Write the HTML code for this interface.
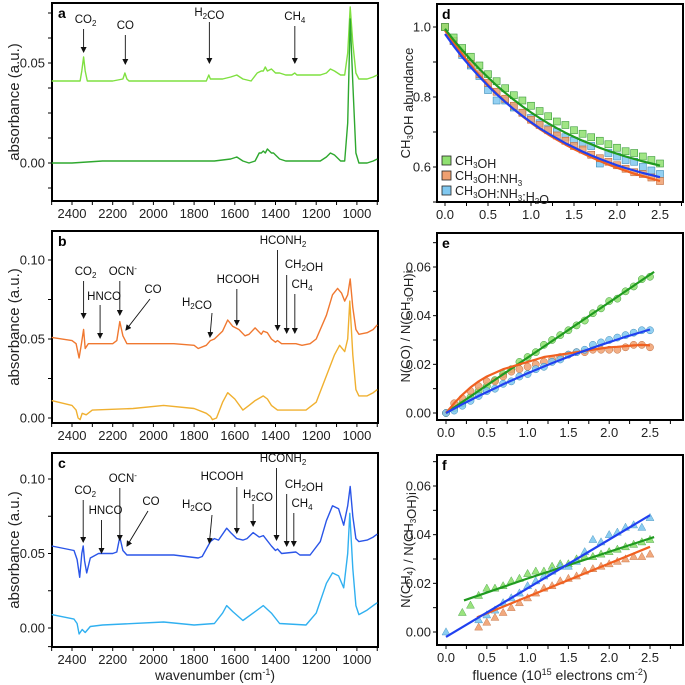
<!DOCTYPE html>
<html><head><meta charset="utf-8"><style>
html,body{margin:0;padding:0;background:#fff;}
svg{display:block;font-family:"Liberation Sans",Arial,sans-serif;}
</style></head><body>
<svg id="fig" width="685" height="685" viewBox="0 0 685 685" xmlns="http://www.w3.org/2000/svg"></svg>
<script>
// ---------- Spectra data (wavenumber, absorbance) ----------
const aTopW=[2500,2400,2360,2352,2343,2335,2325,2200,2150,2140,2130,2120,2000,1800,1740,1728,1720,1700,1660,1620,1590,1560,1520,1490,1470,1460,1450,1440,1420,1410,1400,1380,1350,1320,1305,1295,1250,1180,1150,1130,1110,1080,1060,1045,1033,1020,1005,990,950,920,900];
const aTopV=[0.041,0.041,0.041,0.046,0.053,0.046,0.041,0.041,0.042,0.045,0.042,0.041,0.041,0.041,0.041,0.044,0.042,0.042,0.042,0.043,0.044,0.042,0.041,0.045,0.046,0.046,0.048,0.046,0.047,0.046,0.045,0.045,0.044,0.044,0.045,0.044,0.044,0.044,0.045,0.047,0.046,0.044,0.044,0.055,0.078,0.060,0.045,0.042,0.042,0.043,0.044];
const aBotW=[2500,2400,2250,2100,1900,1700,1620,1590,1560,1530,1500,1480,1470,1460,1450,1440,1430,1420,1410,1400,1380,1350,1300,1250,1180,1150,1130,1110,1080,1060,1045,1033,1020,1005,990,950,920,900];
const aBotV=[0.000,0.000,0.001,0.001,0.001,0.001,0.002,0.003,0.001,0.000,0.001,0.005,0.005,0.006,0.005,0.007,0.006,0.005,0.005,0.004,0.002,0.001,0.001,0.001,0.001,0.003,0.005,0.004,0.001,0.001,0.020,0.072,0.040,0.005,0.000,0.000,0.001,0.002];
const bTopW=[2500,2400,2380,2365,2355,2343,2335,2320,2300,2200,2180,2165,2150,2130,1900,1800,1780,1740,1720,1700,1660,1635,1610,1580,1550,1530,1500,1470,1460,1440,1420,1400,1390,1370,1340,1300,1270,1230,1200,1150,1120,1095,1075,1060,1045,1033,1020,1005,990,950,920,900];
const bTopV=[0.051,0.049,0.047,0.038,0.046,0.056,0.044,0.047,0.047,0.047,0.049,0.061,0.052,0.047,0.047,0.046,0.044,0.046,0.049,0.050,0.055,0.062,0.058,0.056,0.052,0.053,0.057,0.053,0.055,0.054,0.050,0.048,0.049,0.047,0.047,0.047,0.046,0.047,0.050,0.065,0.078,0.082,0.079,0.074,0.078,0.088,0.070,0.056,0.053,0.054,0.056,0.059];
const bBotW=[2500,2400,2380,2370,2360,2350,2330,2300,2100,1950,1800,1740,1720,1710,1690,1660,1635,1600,1560,1530,1500,1460,1440,1420,1390,1300,1250,1200,1140,1110,1085,1060,1045,1035,1020,1005,990,950,920,900];
const bBotV=[0.011,0.008,0.005,0.000,-0.001,0.003,0.002,0.005,0.006,0.008,0.006,0.003,0.001,-0.001,0.000,0.010,0.016,0.012,0.005,0.008,0.011,0.014,0.012,0.008,0.005,0.005,0.005,0.010,0.030,0.040,0.046,0.042,0.050,0.074,0.040,0.018,0.014,0.014,0.016,0.018];
const cTopW=[2500,2390,2375,2362,2352,2345,2338,2328,2310,2270,2200,2180,2165,2150,2130,1900,1780,1760,1720,1700,1680,1640,1620,1590,1560,1540,1510,1480,1460,1420,1400,1390,1370,1300,1280,1230,1180,1150,1120,1090,1065,1045,1033,1020,1005,990,950,920,900];
const cTopV=[0.055,0.052,0.046,0.034,0.050,0.055,0.045,0.037,0.047,0.050,0.050,0.051,0.061,0.052,0.049,0.049,0.047,0.048,0.058,0.060,0.059,0.067,0.064,0.060,0.059,0.060,0.064,0.061,0.062,0.055,0.052,0.053,0.050,0.051,0.049,0.049,0.058,0.072,0.082,0.080,0.069,0.082,0.095,0.075,0.060,0.058,0.059,0.061,0.063];
const cBotW=[2500,2390,2375,2365,2350,2335,2310,2250,1950,1800,1700,1660,1640,1610,1560,1510,1460,1420,1380,1250,1200,1150,1120,1090,1065,1045,1035,1020,1005,990,950,920,900];
const cBotV=[0.009,0.006,0.003,-0.004,-0.001,-0.003,0.001,0.002,0.004,0.002,0.003,0.010,0.015,0.011,0.005,0.010,0.015,0.010,0.003,0.002,0.010,0.030,0.037,0.035,0.027,0.050,0.077,0.040,0.015,0.009,0.012,0.015,0.017];

// ---------- Right panel data ----------
const fl10=[0,0.1,0.2,0.3,0.4,0.5,0.6,0.7,0.8,0.9,1.0,1.1,1.2,1.3,1.4,1.5,1.6,1.7,1.8,1.9,2.0,2.1,2.2,2.3,2.4,2.5];
const dGreen=[1.00,0.97,0.94,0.915,0.89,0.865,0.845,0.825,0.805,0.79,0.775,0.76,0.745,0.73,0.72,0.705,0.695,0.685,0.675,0.665,0.655,0.645,0.64,0.63,0.62,0.61];
const dOrange=[1.00,0.96,0.925,0.895,0.865,0.84,0.815,0.795,0.775,0.755,0.735,0.72,0.705,0.69,0.675,0.66,0.65,0.635,0.625,0.615,0.605,0.595,0.585,0.58,0.57,0.56];
const dBlue=[1.00,0.96,0.92,0.89,0.86,0.82,0.79,0.79,0.77,0.755,0.74,0.725,0.71,0.70,0.685,0.675,0.665,0.66,0.61,0.64,0.63,0.62,0.615,0.60,0.59,0.58];
const dFitGreen=[0.995,0.963,0.934,0.906,0.880,0.856,0.833,0.812,0.792,0.773,0.756,0.740,0.725,0.711,0.698,0.686,0.675,0.665,0.655,0.646,0.638,0.630,0.623,0.616,0.610,0.604];
const dFitOrange=[0.99,0.955,0.922,0.891,0.862,0.835,0.810,0.787,0.765,0.745,0.726,0.709,0.693,0.678,0.664,0.651,0.639,0.628,0.617,0.607,0.598,0.589,0.581,0.574,0.567,0.560];
const dFitBlue=[0.98,0.946,0.914,0.885,0.858,0.832,0.808,0.786,0.765,0.746,0.728,0.711,0.696,0.682,0.668,0.656,0.644,0.633,0.623,0.614,0.605,0.597,0.590,0.583,0.577,0.571];
const eGreen=[0,0.002,0.004,0.0065,0.009,0.011,0.0135,0.016,0.018,0.021,0.023,0.025,0.028,0.030,0.032,0.034,0.036,0.038,0.041,0.043,0.046,0.047,0.050,0.052,0.055,0.056];
const eOrange=[0,0.004,0.006,0.009,0.011,0.013,0.013,0.015,0.017,0.018,0.019,0.020,0.021,0.022,0.023,0.024,0.025,0.025,0.026,0.026,0.026,0.026,0.027,0.028,0.028,0.027];
const eBlue=[0,0.001,0.003,0.005,0.007,0.009,0.010,0.012,0.013,0.015,0.016,0.018,0.019,0.021,0.022,0.024,0.025,0.026,0.028,0.029,0.030,0.031,0.032,0.033,0.034,0.034];
const eFitGreenX=[0,2.55], eFitGreen=[0,0.058];
const eFitOrange=[0,0.004,0.0075,0.0105,0.013,0.015,0.0165,0.018,0.019,0.020,0.021,0.022,0.023,0.0235,0.024,0.0245,0.025,0.0255,0.026,0.0265,0.027,0.0272,0.0275,0.0278,0.028,0.0278];
const eFitBlue=[0,0.0018,0.0036,0.0053,0.007,0.0086,0.0102,0.0118,0.0133,0.0148,0.0163,0.0177,0.0191,0.0205,0.0218,0.0231,0.0244,0.0256,0.0268,0.028,0.0291,0.0302,0.0313,0.0323,0.0333,0.0343];
const fBlueX=[0,0.4,0.5,0.6,0.7,0.8,0.9,1.0,1.1,1.2,1.3,1.4,1.5,1.6,1.7,1.8,1.9,2.0,2.1,2.2,2.3,2.4,2.5];
const fBlue=[0,0.005,0.007,0.009,0.012,0.014,0.016,0.019,0.021,0.023,0.025,0.027,0.027,0.029,0.033,0.038,0.037,0.040,0.041,0.043,0.044,0.043,0.047];
const fGreenX=[0.2,0.3,0.4,0.5,0.6,0.7,0.8,0.9,1.0,1.1,1.2,1.3,1.4,1.5,1.6,1.7,1.8,1.9,2.0,2.1,2.2,2.3,2.4,2.5];
const fGreen=[0.008,0.011,0.015,0.018,0.018,0.019,0.021,0.022,0.024,0.025,0.025,0.027,0.028,0.028,0.030,0.031,0.031,0.032,0.033,0.034,0.035,0.036,0.037,0.038];
const fOrangeX=[0.4,0.5,0.6,0.7,0.8,0.9,1.0,1.1,1.2,1.3,1.4,1.5,1.6,1.7,1.8,1.9,2.0,2.1,2.2,2.3,2.4,2.5];
const fOrange=[0.002,0.004,0.006,0.008,0.010,0.012,0.014,0.016,0.018,0.019,0.021,0.022,0.023,0.025,0.026,0.027,0.028,0.029,0.030,0.031,0.031,0.032];
const fFitBlueX=[0,2.5], fFitBlue=[-0.002,0.048];
const fFitGreenX=[0.22,1.0,2.55], fFitGreen=[0.013,0.022,0.039];
const fFitOrangeX=[0.38,2.5], fFitOrange=[0.006,0.035];

const NS="http://www.w3.org/2000/svg";
const svg=document.getElementById('fig');
function mk(tag,attrs,parent){const e=document.createElementNS(NS,tag);for(const k in attrs)e.setAttribute(k,attrs[k]);(parent||svg).appendChild(e);return e;}

function xW(w){return 72+(2400-w)*0.2035;}
function lin(v0,p0,v1,p1){return v=>p0+(v-v0)*(p1-p0)/(v1-v0);}

const panels={
 a:{top:3,bottom:201,y:lin(0,163,0.05,63),ticks:[-0.0125,0,0.0125,0.025,0.0375,0.05,0.0625,0.075],labels:[0,0.05]},
 b:{top:231,bottom:423,y:lin(0,418,0.10,260),ticks:[0,0.025,0.05,0.075,0.10],labels:[0,0.05,0.10]},
 c:{top:453,bottom:647,y:lin(0,628,0.10,479),ticks:[-0.0125,0,0.025,0.05,0.075,0.10],labels:[0,0.05,0.10]}
};
const L=52,R=378;
for(const key of ['a','b','c']){
 const p=panels[key];
 const g=mk('g',{});
 
 
 const fr=mk('rect',{x:L,y:p.top,width:R-L,height:p.bottom-p.top,fill:'none',stroke:'#000','stroke-width':2},g);
 
 
 for(const t of p.ticks){const yy=p.y(t);if(yy<p.top||yy>p.bottom)continue;mk('line',{x1:L-4,x2:L,y1:yy,y2:yy,stroke:'#000','stroke-width':1},g);}
 for(const t of p.labels){const tx=mk('text',{x:L-7,y:p.y(t)+4.5,'text-anchor':'end','font-size':13,fill:'#222'},g);tx.textContent=t.toFixed(2);
  }
 for(let w=2500;w>=900;w-=100){const xx=xW(w);if(xx<L-0.5||xx>R+0.5)continue;mk('line',{x1:xx,x2:xx,y1:p.bottom,y2:p.bottom+4,stroke:'#000','stroke-width':1},g);
  if(w%200===0&&w<=2400){const tx=mk('text',{x:xx,y:p.bottom+17,'text-anchor':'middle','font-size':13,fill:'#222'},g);tx.textContent=w;
   }}
 const lt=mk('text',{x:L+6,y:p.top+15,'font-size':14,'font-weight':'bold'},g);lt.textContent=key;
 
 const yl=mk('text',{x:0,y:0,transform:`translate(19,${(p.top+p.bottom)/2}) rotate(-90)`,'text-anchor':'middle','font-size':15,fill:'#222'},g);
 yl.textContent='absorbance (a.u.)';
 
}
function spec(W,V,p,color,name){
 const pts=W.map((w,i)=>xW(w).toFixed(1)+','+p.y(V[i]).toFixed(1)).join(' ');
 const pl=mk('polyline',{points:pts,fill:'none',stroke:color,'stroke-width':1.4,'stroke-linejoin':'round'});
 
 
}
spec(aTopW,aTopV,panels.a,'#7fe040','spectrum-a-irradiated');
spec(aBotW,aBotV,panels.a,'#2ea82e','spectrum-a-initial');
spec(bTopW,bTopV,panels.b,'#f07830','spectrum-b-irradiated');
spec(bBotW,bBotV,panels.b,'#f0b030','spectrum-b-initial');
spec(cTopW,cTopV,panels.c,'#2a55e8','spectrum-c-irradiated');
spec(cBotW,cBotV,panels.c,'#30b0f0','spectrum-c-initial');

const xt=mk('text',{x:215,y:680,'text-anchor':'middle','font-size':14,fill:'#222'});
xt.innerHTML='wavenumber (cm<tspan dy="-5" font-size="9">-1</tspan><tspan dy="5">)</tspan>';


const defs=mk('defs',{});
const mkr=mk('marker',{id:'ah',markerWidth:6,markerHeight:6,refX:5,refY:3,orient:'auto',markerUnits:'userSpaceOnUse'},defs);
mk('path',{d:'M0,0 L6,3 L0,6 z',fill:'#111'},mkr);

function ann(html,tx,ty,x1,y1,w2,y2){
 const t=mk('text',{x:tx,y:ty,'text-anchor':'middle','font-size':11.5,fill:'#111'});t.innerHTML=html;
 
 const ln=mk('line',{x1:x1,y1:y1,x2:xW(w2),y2:y2,stroke:'#111','stroke-width':0.9,'marker-end':'url(#ah)'});
 
}
const sub=s=>`<tspan dy="3" font-size="8">${s}</tspan><tspan dy="-3"></tspan>`;
// panel a
ann('CO'+sub('2'),xW(2343)+2,23,xW(2343),29,2343,52);
ann('CO',xW(2138),29,xW(2138),35,2138,64);
ann('H'+sub('2')+'CO',xW(1725),16,xW(1725),22,1725,63);
ann('CH'+sub('4'),xW(1305),20,xW(1305),26,1305,63);
// panel b
ann('CO'+sub('2'),xW(2343)+2,275,xW(2343),281,2343,318);
ann('HNCO',xW(2262)+4,300,xW(2262),305,2262,338);
ann('OCN<tspan dy="-4" font-size="8">-</tspan><tspan dy="4"></tspan>',xW(2165)+3,275,xW(2165),281,2165,315);
ann('CO',153,293,150,299,2135,330);
ann('H'+sub('2')+'CO',197,306,212,313,1722,337);
ann('HCOOH',238,283,xW(1590),289,1590,325);
ann('HCONH'+sub('2'),283,244,xW(1390),250,1390,330);
ann('CH'+sub('2')+'OH',304,268,xW(1345),275,1345,333);
ann('CH'+sub('4'),302,288,xW(1305),294,1305,333);
// panel c
ann('CO'+sub('2'),xW(2345)+2,494,xW(2345),500,2345,542);
ann('HNCO',xW(2255)+4,514,xW(2255),520,2255,553);
ann('OCN<tspan dy="-4" font-size="8">-</tspan><tspan dy="4"></tspan>',xW(2165)+3,482,xW(2165),488,2165,540);
ann('CO',151,505,148,511,2130,546);
ann('H'+sub('2')+'CO',197,508,212,515,1725,543);
ann('HCOOH',222,480,xW(1590),487,1590,533);
ann('H'+sub('2')+'CO',258,498,xW(1510),504,1510,526);
ann('HCONH'+sub('2'),283,462,xW(1395),468,1395,540);
ann('CH'+sub('2')+'OH',304,488,xW(1345),494,1345,546);
ann('CH'+sub('4'),302,507,xW(1310),513,1310,546);

// ---------- right panels ----------
const RL=437,RR=683;
function rightPanel(key,top,bottom,xs,ys,yTicks,yLabels,yDec,xMinor,title){
 const g=mk('g',{});
 
 
 const fr=mk('rect',{x:RL,y:top,width:RR-RL,height:bottom-top,fill:'none',stroke:'#000','stroke-width':2},g);
 
 for(const t of yTicks){const yy=ys(t);if(yy<top-1||yy>bottom)continue;mk('line',{x1:RL-4,x2:RL,y1:yy,y2:yy,stroke:'#000'},g);}
 for(const t of yLabels){const tx=mk('text',{x:RL-6,y:ys(t)+4.5,'text-anchor':'end','font-size':13,fill:'#222'},g);tx.textContent=t.toFixed(yDec);
  }
 for(let v=0;v<=xMinor+1e-9;v+=0.25){const xx=xs(v);if(xx>RR)continue;mk('line',{x1:xx,x2:xx,y1:bottom,y2:bottom+4,stroke:'#000'},g);
  if(Math.abs(v*2-Math.round(v*2))<1e-6&&v<=2.5){const tx=mk('text',{x:xx,y:bottom+17,'text-anchor':'middle','font-size':13,fill:'#222'},g);tx.textContent=v.toFixed(1);
   }}
 const lt=mk('text',{x:RL+5,y:top+15,'font-size':14,'font-weight':'bold'},g);lt.textContent=key;
 
 const yl=mk('text',{x:0,y:0,transform:`translate(410,${(top+bottom)/2}) rotate(-90)`,'text-anchor':'middle','font-size':13,fill:'#222'},g);
 yl.innerHTML=title;
 
}
const dx=lin(0,445,2.5,660), dy=lin(0.6,167,1.0,27);
const ex=lin(0,446,2.5,650), ey=lin(0,413,0.06,267);
const fx=lin(0,446,2.5,650), fy=lin(0,632,0.06,486);
rightPanel('d',4,202,dx,dy,[0.5,0.6,0.7,0.8,0.9,1.0],[0.6,0.8,1.0],1,2.75,'CH'+sub('3')+'OH abundance');
rightPanel('e',233,420,ex,ey,[0,0.01,0.02,0.03,0.04,0.05,0.06,0.07],[0,0.02,0.04,0.06],2,2.9,'N(CO) / N(CH'+sub('3')+'OH)i');
rightPanel('f',455,645,fx,fy,[0,0.01,0.02,0.03,0.04,0.05,0.06,0.07],[0,0.02,0.04,0.06],2,2.9,'N(CH'+sub('4')+') / N(CH'+sub('3')+'OH)i');

function scatter(X,Y,xs,ys,shape,fill,stroke,name){
 X.forEach((xv,i)=>{const cx=xs(xv),cy=ys(Y[i]);let el;
  if(shape==='sq')el=mk('rect',{x:cx-3.5,y:cy-3.5,width:7,height:7,fill:fill,stroke:stroke,'stroke-width':0.6,'fill-opacity':0.85});
  else if(shape==='ci')el=mk('circle',{cx:cx,cy:cy,r:3.6,fill:fill,stroke:stroke,'stroke-width':0.5,'fill-opacity':0.85});
  else el=mk('polygon',{points:`${cx},${cy-4.2} ${cx-4},${cy+3} ${cx+4},${cy+3}`,fill:fill,stroke:stroke,'stroke-width':0.4,'fill-opacity':0.9});
  
  });
}
function fit(X,Y,xs,ys,color,name){
 const pl=mk('polyline',{points:X.map((xv,i)=>xs(xv).toFixed(1)+','+ys(Y[i]).toFixed(1)).join(' '),fill:'none',stroke:color,'stroke-width':2.2,'stroke-linejoin':'round'});
 
 
}
const cG='#8fe070',sG='#3a9a3a',cO='#f0a070',sO='#c06a3a',cB='#80c8f0',sB='#3a8ab8';
const lG='#1f9a1f',lO='#f06020',lB='#2040f0';
scatter(fl10,dBlue,dx,dy,'sq',cB,sB,'point-d-ch3oh-nh3-h2o');
scatter(fl10,dOrange,dx,dy,'sq',cO,sO,'point-d-ch3oh-nh3');
scatter(fl10,dGreen,dx,dy,'sq',cG,sG,'point-d-ch3oh');
fit(fl10,dFitOrange,dx,dy,lO,'fit-d-ch3oh-nh3');
fit(fl10,dFitBlue,dx,dy,lB,'fit-d-ch3oh-nh3-h2o');
fit(fl10,dFitGreen,dx,dy,lG,'fit-d-ch3oh');
const legItems=[['CH'+sub('3')+'OH',cG,sG],['CH'+sub('3')+'OH:NH'+sub('3'),cO,sO],['CH'+sub('3')+'OH:NH'+sub('3')+':H'+sub('2')+'O',cB,sB]];
legItems.forEach((it,i)=>{const yy=161+i*15;
 const r=mk('rect',{x:442,y:yy-5,width:9,height:9,fill:it[1],stroke:'#222','stroke-width':0.8});
 
 const t=mk('text',{x:455,y:yy+4,'font-size':12.5,fill:'#222'});t.innerHTML=it[0];
 });
scatter(fl10,eGreen,ex,ey,'ci',cG,sG,'point-e-ch3oh');
scatter(fl10,eOrange,ex,ey,'ci',cO,sO,'point-e-ch3oh-nh3');
scatter(fl10,eBlue,ex,ey,'ci',cB,sB,'point-e-ch3oh-nh3-h2o');
fit(eFitGreenX,eFitGreen,ex,ey,lG,'fit-e-ch3oh');
fit(fl10,eFitOrange,ex,ey,lO,'fit-e-ch3oh-nh3');
fit(fl10,eFitBlue,ex,ey,lB,'fit-e-ch3oh-nh3-h2o');
scatter(fGreenX,fGreen,fx,fy,'tr',cG,sG,'point-f-ch3oh');
scatter(fOrangeX,fOrange,fx,fy,'tr',cO,sO,'point-f-ch3oh-nh3');
scatter(fBlueX,fBlue,fx,fy,'tr',cB,sB,'point-f-ch3oh-nh3-h2o');
fit(fFitGreenX,fFitGreen,fx,fy,lG,'fit-f-ch3oh');
fit(fFitOrangeX,fFitOrange,fx,fy,lO,'fit-f-ch3oh-nh3');
fit(fFitBlueX,fFitBlue,fx,fy,lB,'fit-f-ch3oh-nh3-h2o');
const ft=mk('text',{x:560,y:680,'text-anchor':'middle','font-size':14,fill:'#222'});
ft.innerHTML='fluence  (10<tspan dy="-5" font-size="9">15</tspan><tspan dy="5"> electrons cm</tspan><tspan dy="-5" font-size="9">-2</tspan><tspan dy="5">)</tspan>';

</script>
</body></html>
